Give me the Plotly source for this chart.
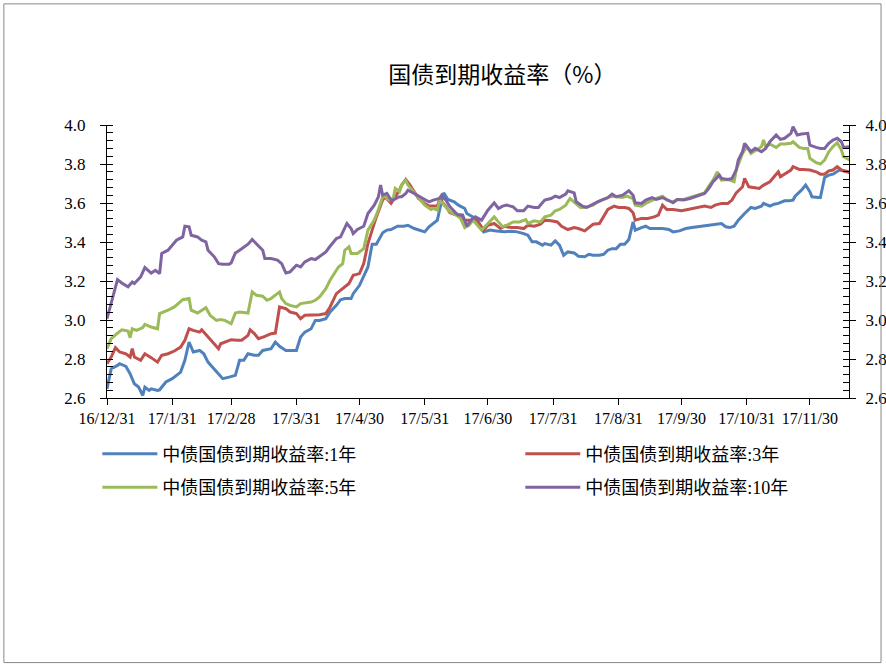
import pandas as pd
import plotly.graph_objects as go

BASE = pd.Timestamp("2016-12-31")

# days since 2016-12-31, and yields (%)
days_1y = [0,2,5,6,9,11,13,15,17,18,20,21,24,25,28,31,35,37,39,41,44,46,48,52,55,58,61,63,65,67,70,72,74,78,80,82,85,87,90,92,94,97,99,101,104,106,109,111,113,116,117,120,122,124,126,128,131,133,135,138,141,143,146,149,151,153,155,157,158,160,162,165,167,170,171,174,176,
           179,182,185,189,192,195,198,200,202,204,207,208,211,213,215,217,219,222,224,227,229,231,234,236,238,240,242,244,246,248,250,251,254,256,258,261,264,267,269,272,275,278,281,284,287,290,292,294,296,298,300,303,306,308,311,312,315,317,319,322,324,326,327,330,332,334,335,338,339,341,343,345,348,350,353]
vals_1y = [2.647,2.750,2.767,2.776,2.762,2.724,2.673,2.656,2.613,2.656,2.639,2.647,2.639,2.642,2.682,2.699,2.733,2.793,2.887,2.836,2.844,2.827,2.784,2.733,2.699,2.707,2.716,2.793,2.793,2.827,2.819,2.819,2.844,2.853,2.887,2.865,2.844,2.844,2.844,2.913,2.938,2.955,2.998,2.998,3.007,3.041,3.075,3.104,3.110,3.110,3.135,3.178,3.221,3.272,3.389,3.389,3.447,3.461,3.464,3.481,3.481,3.486,3.469,3.461,3.452,3.478,3.495,3.512,3.563,3.652,3.618,3.606,3.589,3.572,3.546,3.529,3.515,
           3.452,3.461,3.457,3.452,3.455,3.452,3.443,3.435,3.401,3.401,3.384,3.392,3.384,3.406,3.384,3.332,3.349,3.344,3.327,3.324,3.337,3.332,3.332,3.337,3.358,3.366,3.366,3.389,3.389,3.413,3.503,3.461,3.474,3.481,3.469,3.469,3.469,3.464,3.452,3.457,3.469,3.474,3.478,3.481,3.486,3.491,3.495,3.478,3.474,3.481,3.512,3.546,3.577,3.572,3.584,3.598,3.584,3.594,3.598,3.611,3.611,3.615,3.635,3.666,3.692,3.658,3.632,3.628,3.628,3.731,3.743,3.748,3.769,3.765,3.760]

days_3y = [0,2,4,6,9,11,12,13,16,18,21,24,26,29,32,35,37,39,41,44,45,48,51,53,54,56,59,62,64,67,68,70,72,75,78,80,82,85,87,90,92,94,97,99,101,104,106,109,110,113,115,117,120,122,124,126,128,131,132,135,136,139,140,142,144,146,148,151,153,155,157,158,161,163,166,168,170,173,175,
           179,181,184,187,189,192,195,198,200,203,206,208,211,214,216,219,222,224,227,229,231,234,236,238,241,243,246,248,250,251,254,257,260,262,264,266,269,273,276,279,282,284,287,289,292,295,297,299,302,303,305,307,310,312,315,317,319,320,322,325,326,329,331,334,337,339,341,343,345,347,349,350,353]
vals_3y = [2.776,2.810,2.858,2.836,2.827,2.810,2.853,2.810,2.793,2.827,2.807,2.784,2.819,2.827,2.841,2.861,2.896,2.955,2.947,2.938,2.950,2.913,2.878,2.853,2.878,2.887,2.899,2.896,2.896,2.921,2.950,2.930,2.904,2.916,2.930,2.933,3.067,3.058,3.041,3.033,3.007,3.024,3.024,3.027,3.027,3.033,3.067,3.135,3.144,3.170,3.187,3.229,3.238,3.289,3.392,3.461,3.529,3.615,3.632,3.598,3.615,3.666,3.692,3.721,3.692,3.658,3.623,3.598,3.584,3.584,3.584,3.618,3.584,3.550,3.538,3.538,3.512,3.512,3.521,
           3.461,3.486,3.495,3.469,3.481,3.474,3.474,3.469,3.486,3.481,3.491,3.512,3.509,3.503,3.481,3.464,3.474,3.469,3.457,3.474,3.491,3.495,3.529,3.567,3.584,3.577,3.577,3.572,3.550,3.512,3.521,3.521,3.529,3.538,3.589,3.567,3.567,3.560,3.567,3.572,3.577,3.584,3.577,3.589,3.598,3.598,3.615,3.652,3.683,3.726,3.683,3.680,3.675,3.692,3.709,3.735,3.760,3.735,3.748,3.769,3.786,3.772,3.772,3.769,3.760,3.748,3.748,3.765,3.769,3.786,3.769,3.765,3.755]

days_5y = [0,2,5,7,10,11,12,14,17,18,21,24,25,29,32,35,36,39,40,43,45,47,49,52,54,56,59,61,63,67,69,71,74,76,78,82,83,85,87,90,92,94,97,99,101,104,106,109,110,112,113,115,116,119,122,124,127,129,131,132,134,136,137,139,140,142,143,145,147,149,151,154,155,157,158,161,163,166,168,170,172,174,
           178,181,184,186,188,190,193,196,199,200,203,206,208,211,213,215,218,220,223,225,227,231,233,235,238,240,242,245,247,250,251,254,256,259,261,264,266,269,271,274,277,280,284,286,288,290,292,295,298,299,302,304,306,308,311,312,313,315,318,320,322,325,326,329,331,333,334,337,339,341,343,345,347,349,350,353]
vals_5y = [2.853,2.904,2.933,2.950,2.943,2.909,2.955,2.947,2.961,2.978,2.964,2.955,3.033,3.050,3.067,3.092,3.104,3.110,3.050,3.036,3.050,3.063,3.024,2.998,3.002,2.998,2.981,3.036,3.041,3.036,3.144,3.127,3.122,3.101,3.110,3.144,3.110,3.084,3.075,3.067,3.084,3.087,3.092,3.101,3.118,3.161,3.204,3.255,3.272,3.289,3.358,3.375,3.341,3.341,3.366,3.461,3.512,3.567,3.632,3.635,3.615,3.623,3.675,3.658,3.692,3.717,3.692,3.666,3.640,3.615,3.589,3.567,3.572,3.563,3.615,3.580,3.555,3.538,3.521,3.474,3.486,3.512,
           3.461,3.495,3.529,3.503,3.478,3.486,3.503,3.503,3.515,3.495,3.509,3.503,3.529,3.538,3.560,3.567,3.589,3.623,3.598,3.577,3.577,3.589,3.606,3.615,3.628,3.635,3.632,3.628,3.635,3.623,3.589,3.584,3.598,3.615,3.623,3.635,3.615,3.606,3.618,3.618,3.628,3.635,3.652,3.687,3.717,3.760,3.717,3.721,3.709,3.769,3.854,3.889,3.854,3.868,3.889,3.923,3.889,3.902,3.885,3.902,3.902,3.906,3.914,3.885,3.880,3.880,3.829,3.807,3.800,3.820,3.863,3.889,3.909,3.872,3.837,3.820]

days_10y = [0,2,5,7,10,12,13,16,18,21,23,25,26,29,31,33,36,37,39,40,43,45,47,48,51,53,55,58,59,61,63,67,69,71,74,75,78,81,83,85,87,90,92,94,97,99,101,104,106,109,111,113,114,116,117,119,122,124,127,129,130,131,133,135,136,139,140,142,143,146,148,151,153,155,158,159,161,163,166,167,169,171,173,175,
            178,181,184,186,188,190,193,195,198,200,203,205,208,211,213,215,218,219,222,223,226,228,231,233,235,238,240,242,245,248,250,251,254,256,259,261,264,266,269,271,274,277,280,284,286,288,291,292,295,297,299,300,302,303,306,308,311,313,315,318,320,322,325,326,328,330,333,334,337,339,341,343,345,347,349,350,353]
vals_10y = [3.007,3.084,3.207,3.190,3.170,3.195,3.187,3.221,3.269,3.241,3.255,3.238,3.341,3.358,3.384,3.409,3.426,3.481,3.478,3.435,3.426,3.409,3.401,3.358,3.324,3.289,3.286,3.286,3.293,3.344,3.358,3.389,3.413,3.392,3.358,3.315,3.315,3.307,3.289,3.241,3.247,3.281,3.272,3.298,3.315,3.310,3.324,3.349,3.378,3.418,3.426,3.469,3.495,3.469,3.443,3.464,3.481,3.546,3.589,3.632,3.692,3.640,3.649,3.615,3.615,3.632,3.632,3.649,3.666,3.649,3.635,3.618,3.606,3.615,3.623,3.640,3.615,3.580,3.546,3.538,3.538,3.481,3.512,3.529,
            3.512,3.563,3.601,3.572,3.584,3.589,3.580,3.560,3.560,3.584,3.577,3.577,3.615,3.623,3.635,3.628,3.646,3.663,3.652,3.606,3.584,3.577,3.594,3.606,3.615,3.628,3.646,3.632,3.640,3.663,3.640,3.601,3.598,3.615,3.628,3.618,3.628,3.618,3.601,3.618,3.615,3.623,3.635,3.649,3.675,3.709,3.743,3.726,3.721,3.726,3.769,3.820,3.863,3.906,3.863,3.880,3.863,3.880,3.914,3.949,3.926,3.932,3.957,3.991,3.949,3.954,3.957,3.897,3.885,3.880,3.880,3.906,3.923,3.932,3.914,3.885,3.889]

names = ["中债国债到期收益率:1年", "中债国债到期收益率:3年", "中债国债到期收益率:5年", "中债国债到期收益率:10年"]
colors = ["#4F81BD", "#C0504D", "#9BBB59", "#8064A2"]

tick_dates = ["2016-12-31", "2017-01-31", "2017-02-28", "2017-03-31", "2017-04-30", "2017-05-31",
              "2017-06-30", "2017-07-31", "2017-08-31", "2017-09-30", "2017-10-31", "2017-11-30"]
tick_text = ["16/12/31", "17/1/31", "17/2/28", "17/3/31", "17/4/30", "17/5/31",
             "17/6/30", "17/7/31", "17/8/31", "17/9/30", "17/10/31", "17/11/30"]

TITLE = "国债到期收益率（%）"
FONT = "Liberation Serif, Noto Sans CJK SC, serif"

series = [(days_1y, vals_1y), (days_3y, vals_3y), (days_5y, vals_5y), (days_10y, vals_10y)]
axes = ["y", "y2", "y3", "y4"]
legends = ["legend", "legend2", "legend", "legend2"]

fig = go.Figure()
for i, ((d, v), nm, c) in enumerate(zip(series, names, colors)):
    fig.add_trace(go.Scatter(
        x=BASE + pd.to_timedelta(d, unit="D"), y=v, name=nm, mode="lines",
        line=dict(color=c, width=3), yaxis=axes[i], legend=legends[i],
        legendgroup=nm, hoverinfo="skip"))

yr = [2.6, 4.0]
common_y = dict(range=yr, dtick=0.2, tick0=2.6, showgrid=False, zeroline=False,
                tickcolor="black", tickwidth=1, ticklen=6, automargin=False)

fig.update_layout(
    width=886, height=666, autosize=False,
    paper_bgcolor="white", plot_bgcolor="white",
    margin=dict(l=107, r=37, t=125, b=268),
    font=dict(family=FONT, color="black"),
    title=dict(text=TITLE, x=0.567, xref="container", y=0.887, yref="container",
               xanchor="center", yanchor="middle",
               font=dict(family="Noto Sans CJK SC", size=23, color="black")),
    xaxis=dict(type="date", range=[BASE, BASE + pd.Timedelta(days=352.6)],
               tickvals=tick_dates, ticktext=tick_text, ticks="outside", ticklen=6,
               tickcolor="black", showline=True, linecolor="black", linewidth=1,
               showgrid=False, zeroline=False, automargin=False,
               tickfont=dict(size=16, family=FONT)),
    yaxis=dict(**common_y, side="left", ticks="outside", showline=True, linecolor="black",
               linewidth=1, tickformat=".1f", tickfont=dict(size=17, family=FONT),
               ticklabelstandoff=11,
               minor=dict(dtick=0.04, tick0=2.6, ticks="inside", ticklen=6, tickcolor="black")),
    yaxis2=dict(**common_y, side="right", overlaying="y", anchor="x", ticks="outside",
                showline=True, linecolor="black", linewidth=1, tickformat=".1f",
                tickfont=dict(size=17, family=FONT), ticklabelstandoff=6,
                minor=dict(dtick=0.04, tick0=2.6, ticks="inside", ticklen=6, tickcolor="black")),
    yaxis3=dict(**common_y, side="left", overlaying="y", anchor="x", ticks="inside",
                showline=False, showticklabels=False),
    yaxis4=dict(**common_y, side="right", overlaying="y", anchor="x", ticks="inside",
                showline=False, showticklabels=False),
    legend=dict(x=-0.013, y=-0.138, xanchor="left", yanchor="top", orientation="v",
                tracegroupgap=7, itemwidth=55, font=dict(size=18, family=FONT),
                bgcolor="rgba(0,0,0,0)"),
    legend2=dict(x=0.557, y=-0.138, xanchor="left", yanchor="top", orientation="v",
                 tracegroupgap=7, itemwidth=55, font=dict(size=18, family=FONT),
                 bgcolor="rgba(0,0,0,0)"),
    shapes=[dict(type="rect", xref="paper", yref="paper",
                 x0=-103/741, x1=773/741, y0=-264.3/272.7, y1=393.7/272.7,
                 line=dict(color="#888888", width=1), fillcolor="rgba(0,0,0,0)")],
)

fig.write_html("out.html", config={"displayModeBar": False},
               post_script="document.body.style.margin='0px';")
